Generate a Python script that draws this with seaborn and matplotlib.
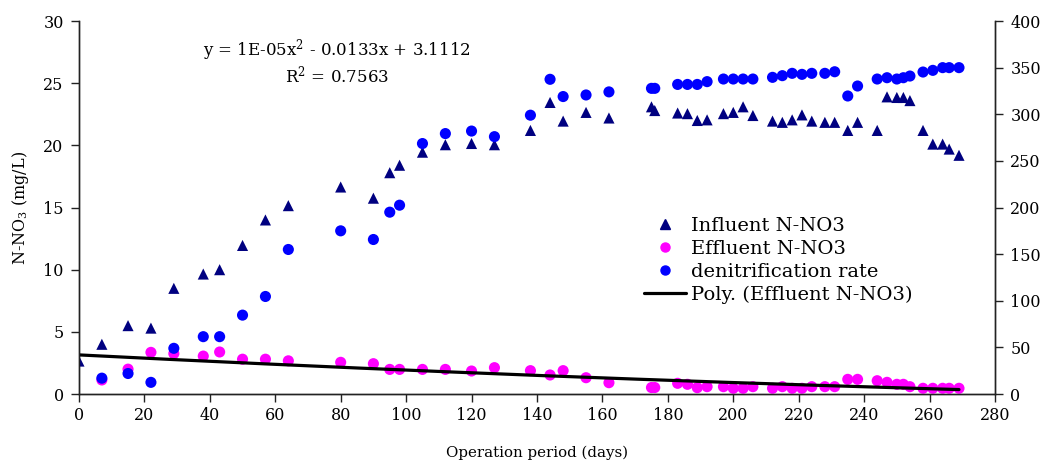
import numpy as np
import pandas as pd
import matplotlib
matplotlib.use("Agg")
import matplotlib.pyplot as plt
import seaborn as sns
from matplotlib.lines import Line2D

days = [0, 7, 15, 22, 29, 38, 43, 50, 57, 64, 80, 90, 95, 98, 105, 112, 120, 127,
        138, 144, 148, 155, 162, 175, 176, 183, 186, 189, 192, 197, 200, 203, 206,
        212, 215, 218, 221, 224, 228, 231, 235, 238, 244, 247, 250, 252, 254, 258,
        261, 264, 266, 269]
influent = [2.65, 4.0, 5.5, 5.3, 8.5, 9.65, 10.0, 11.95, 14.0, 15.15, 16.65, 15.75,
            17.8, 18.4, 19.45, 20.05, 20.15, 20.05, 21.2, 23.45, 21.95, 22.65, 22.2,
            23.1, 22.8, 22.6, 22.55, 22.0, 22.05, 22.55, 22.65, 23.1, 22.4, 21.95,
            21.85, 22.05, 22.45, 21.95, 21.85, 21.85, 21.2, 21.85, 21.2, 23.9, 23.85,
            23.85, 23.6, 21.2, 20.1, 20.1, 19.7, 19.2]
effluent = [np.nan, 1.13, 2.0, 3.35, 3.25, 3.05, 3.38, 2.8, 2.8, 2.67, 2.55, 2.44,
            1.98, 1.98, 1.98, 1.98, 1.85, 2.12, 1.88, 1.53, 1.88, 1.31, 0.91, 0.52,
            0.52, 0.86, 0.78, 0.51, 0.59, 0.59, 0.46, 0.46, 0.59, 0.46, 0.59, 0.46,
            0.46, 0.59, 0.59, 0.59, 1.18, 1.18, 1.07, 0.94, 0.78, 0.78, 0.59, 0.46,
            0.46, 0.46, 0.46, 0.46]
denitrification = [np.nan, 17, 22, 12.5, 49, 61.5, 61.5, 84.6, 104.6, 155, 175, 165.7,
                   195, 202.5, 268.6, 279.3, 282, 276, 299, 337.5, 319, 320.7, 324,
                   327.8, 327.8, 332, 332, 332, 335, 337.8, 337.8, 337.8, 337.8, 339.6,
                   341.4, 343.9, 342.8, 343.9, 343.9, 345.6, 319.6, 330.3, 337.8, 339.2,
                   337.8, 339.2, 341, 345.3, 347.1, 350, 350, 350]

labels = ["Influent N-NO3", "Effluent N-NO3", "denitrification rate",
          "Poly. (Effluent N-NO3)"]
x_ticks = list(range(0, 281, 20))
yl_ticks = list(range(0, 31, 5))
yr_ticks = list(range(0, 401, 50))

df = pd.DataFrame({"day": days, "inf": influent, "eff": effluent, "den": denitrification})

sns.set_theme(style="white")
plt.rcParams["font.family"] = ["DejaVu Serif"]
plt.rcParams["mathtext.fontset"] = "dejavuserif"
plt.rcParams["text.color"] = "black"
plt.rcParams["axes.labelcolor"] = "black"

fig = plt.figure(figsize=(10.5, 4.63), dpi=100)
ax = fig.add_axes([0.0752, 0.149, 0.8724, 0.8056])
ax2 = ax.twinx()

sns.scatterplot(data=df, x="day", y="inf", ax=ax, marker="^", s=64, color="#000080",
                edgecolor="none", linewidth=0, zorder=3)
sns.scatterplot(data=df, x="day", y="eff", ax=ax, marker="o", s=64, color="#FF00FF",
                edgecolor="none", linewidth=0, zorder=3)

# quadratic trendline of effluent
valid = df.dropna(subset=["eff"])
coef = np.polyfit(valid["day"], valid["eff"], 2)
xs = np.linspace(df["day"].min(), df["day"].max(), 200)
trend = pd.DataFrame({"day": xs, "fit": np.polyval(coef, xs)})
sns.lineplot(data=trend, x="day", y="fit", ax=ax, color="black", linewidth=2.3, zorder=4)

sns.scatterplot(data=df, x="day", y="den", ax=ax2, marker="o", s=64, color="#0000FF",
                edgecolor="none", linewidth=0, zorder=3)

ax.set_xlim(0, 280)
ax.set_ylim(0, 30)
ax2.set_ylim(0, 400)
ax.set_xticks(x_ticks)
ax.set_yticks(yl_ticks)
ax2.set_yticks(yr_ticks)

for a in (ax, ax2):
    a.set_xlabel("")
    a.set_ylabel("")
    a.grid(False)
    for s in a.spines.values():
        s.set_color("#222222")
        s.set_linewidth(1.0)
    a.spines["top"].set_visible(False)
    a.tick_params(axis="both", direction="out", length=6, width=1, colors="#222222",
                  labelcolor="black", labelsize=11.5, pad=5)
ax.tick_params(axis="x", bottom=True, pad=3)
ax.tick_params(axis="y", left=True)
ax2.tick_params(axis="y", right=True)
ax.set_xlabel("Operation period (days)", fontsize=10.8, labelpad=16)
ax.set_ylabel("N-NO$_3$ (mg/L)", fontsize=11.5, labelpad=9)

ax.text(0.2817, 0.922, "y = 1E-05x$^2$ - 0.0133x + 3.1112", transform=ax.transAxes,
        ha="center", va="center", fontsize=12)
ax.text(0.2817, 0.853, "R$^2$ = 0.7563", transform=ax.transAxes,
        ha="center", va="center", fontsize=12)

handles = [
    Line2D([], [], marker="^", linestyle="none", color="#000080", markersize=6.5),
    Line2D([], [], marker="o", linestyle="none", color="#FF00FF", markersize=6.5),
    Line2D([], [], marker="o", linestyle="none", color="#0000FF", markersize=6.5),
    Line2D([], [], color="black", linewidth=2.3),
]
leg = ax2.legend(handles, labels, loc="center left", bbox_to_anchor=(0.617, 0.358),
                 frameon=False, fontsize=14, handlelength=2.15, handletextpad=0.28,
                 labelspacing=0.25, borderaxespad=0, borderpad=0)

fig.savefig("out.png", dpi=100)
